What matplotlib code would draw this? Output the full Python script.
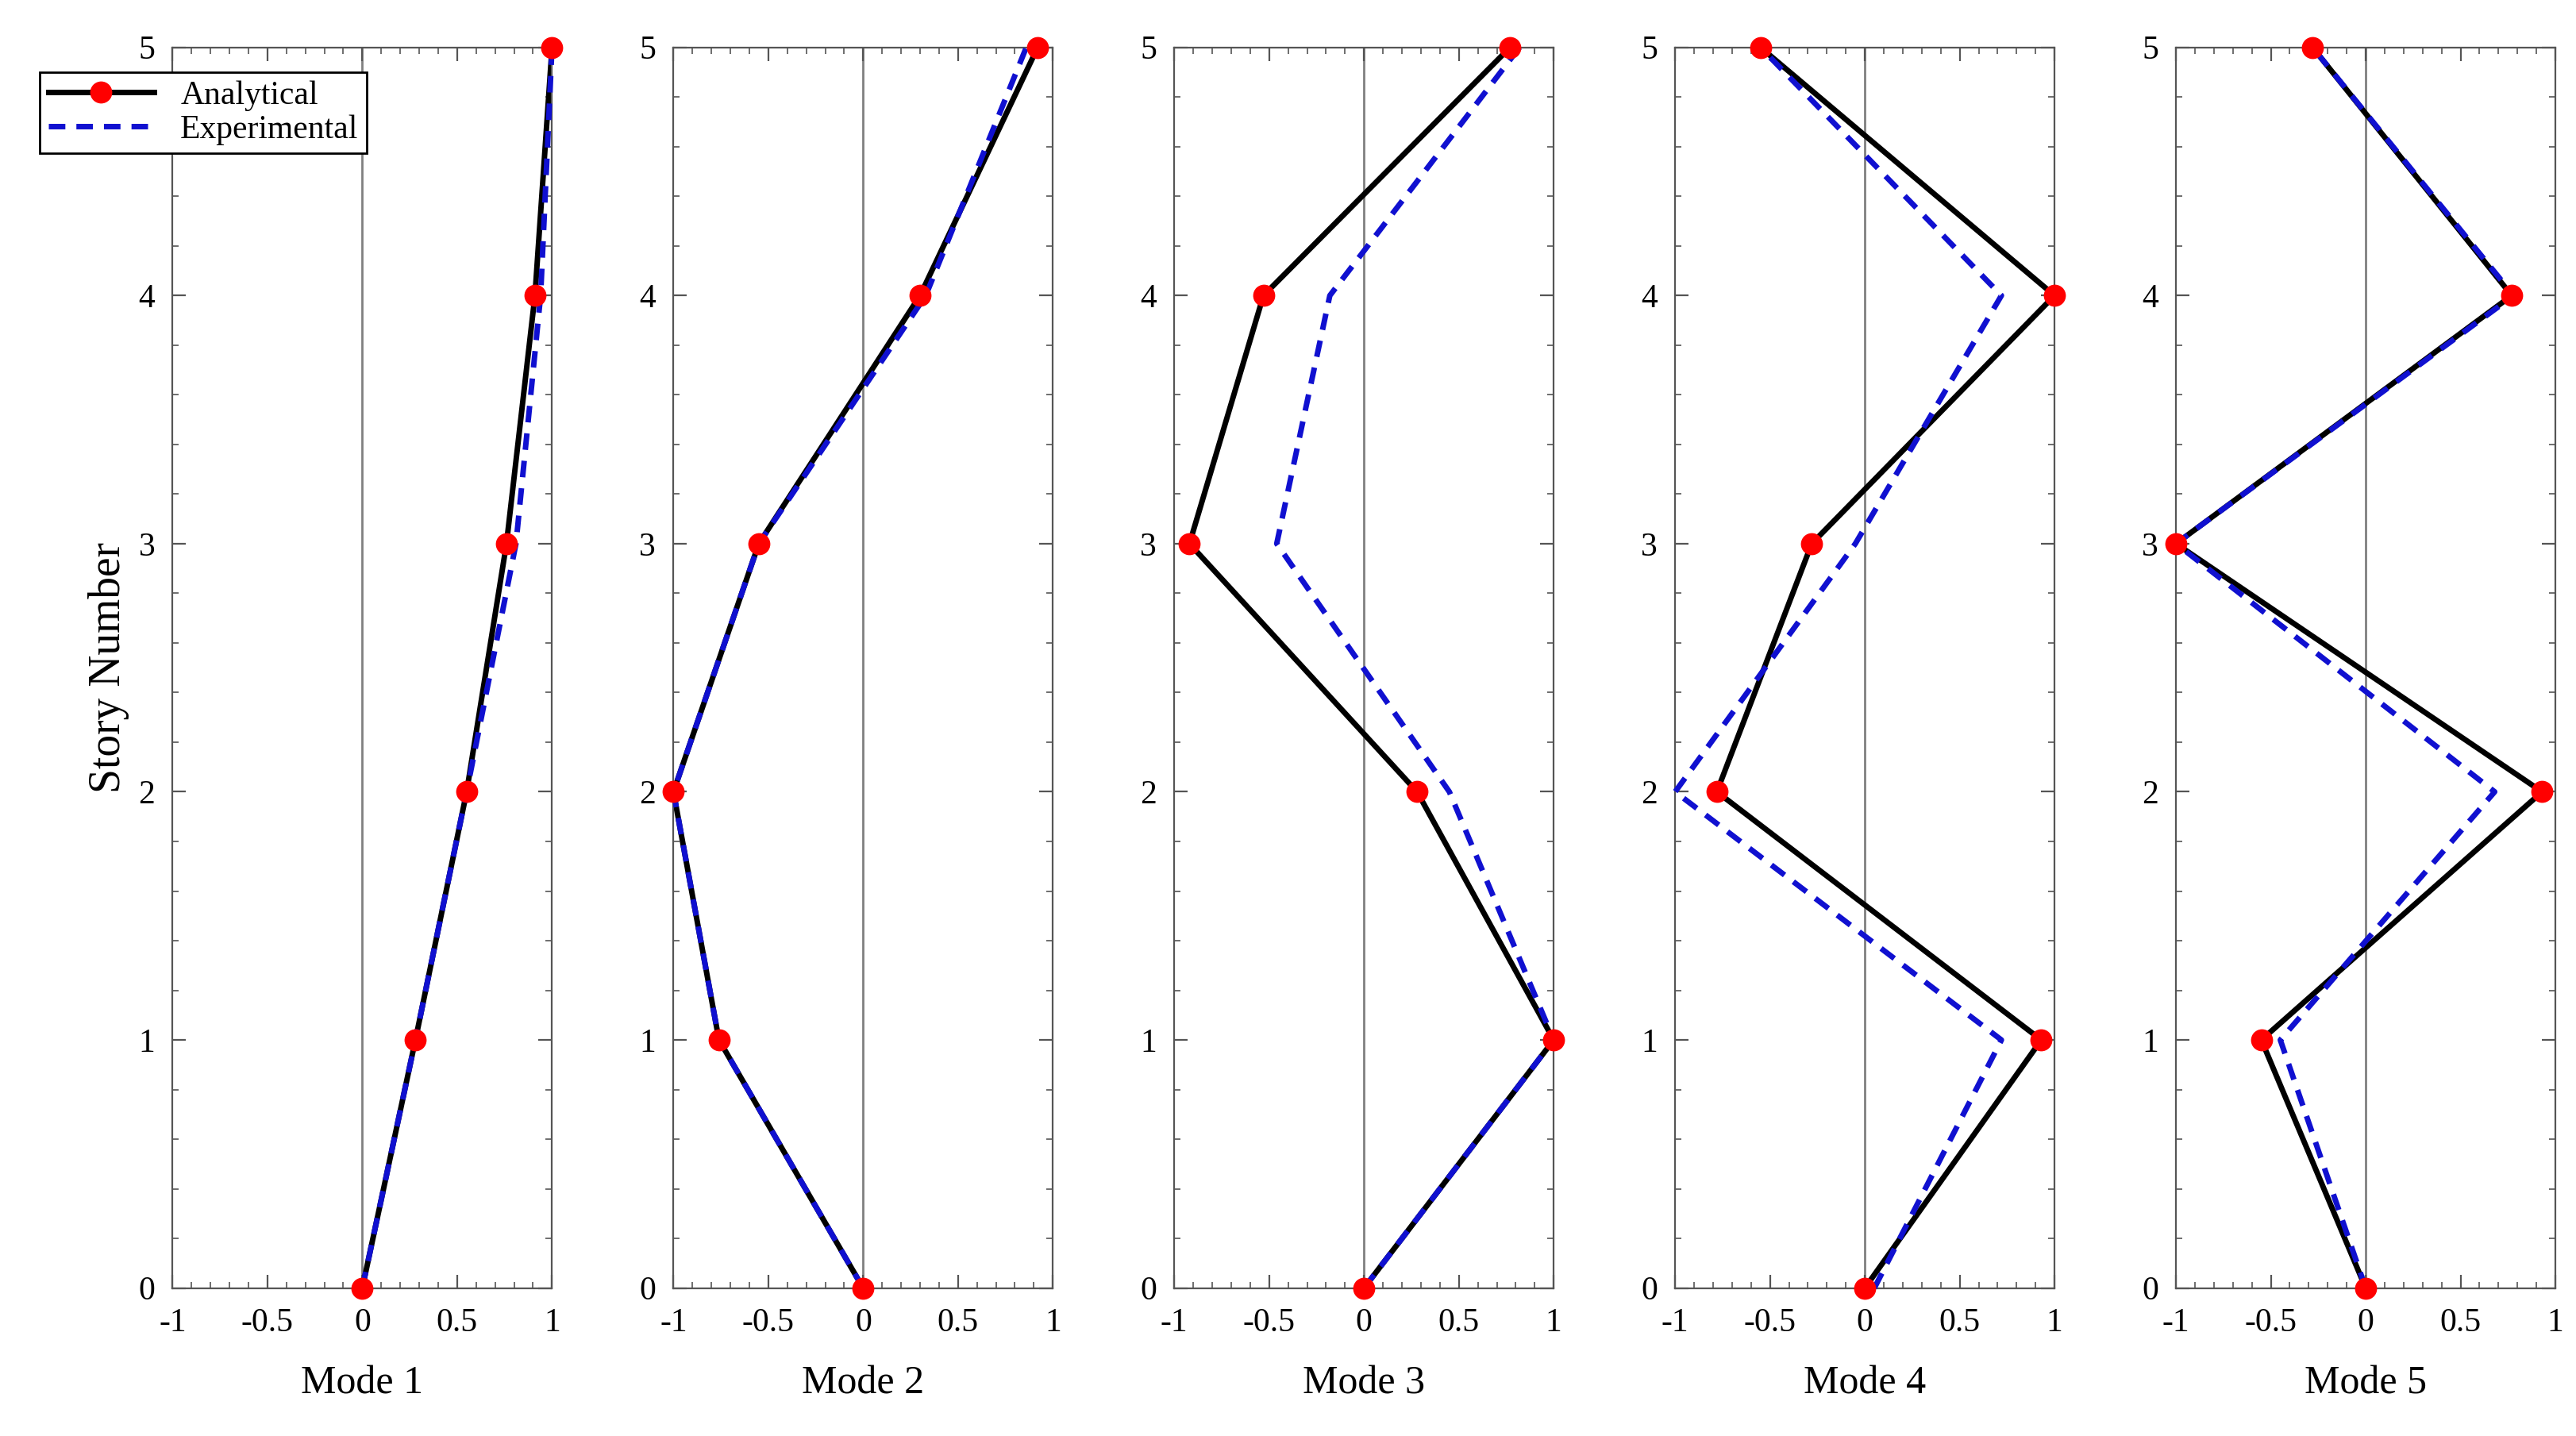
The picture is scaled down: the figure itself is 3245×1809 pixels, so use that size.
import numpy as np
import matplotlib
matplotlib.use("Agg")
import matplotlib.pyplot as plt
from matplotlib.ticker import AutoMinorLocator

plt.rcParams['font.family'] = ['Liberation Serif', 'DejaVu Serif']

stories = [0, 1, 2, 3, 4, 5]
mode_labels = ['Mode 1', 'Mode 2', 'Mode 3', 'Mode 4', 'Mode 5']

analytical = [
    [0, 0.28, 0.55, 0.76, 0.91, 1.0],
    [0, -0.76, -1.0, -0.55, 0.30, 0.92],
    [0, 1.0, 0.28, -0.92, -0.53, 0.77],
    [0, 0.93, -0.78, -0.28, 1.0, -0.55],
    [0, -0.55, 0.93, -1.0, 0.77, -0.28],
]
experimental = [
    [0, 0.28, 0.55, 0.81, 0.94, 1.0],
    [0, -0.76, -1.0, -0.55, 0.33, 0.86],
    [0, 1.0, 0.45, -0.46, -0.18, 0.82],
    [0.05, 0.72, -1.0, -0.05, 0.72, -0.55],
    [0, -0.45, 0.68, -1.0, 0.78, -0.28],
]

fig, axes = plt.subplots(1, 5, figsize=(16.225, 9.045), dpi=200)
fig.subplots_adjust(left=0.067, right=0.992, top=0.967, bottom=0.103, wspace=0.32)

for i, ax in enumerate(axes):
    ax.axvline(0, color='grey', linewidth=1.0, zorder=1)
    # black line, dashed on top, then markers on top of everything
    ax.plot(analytical[i], stories, color='black', linewidth=2.5, zorder=2)
    ax.plot(experimental[i], stories, color='#1010d0', linewidth=2.5,
            linestyle=(0, (3, 2)), zorder=3, clip_on=False)
    ax.plot(analytical[i], stories, linestyle='none', marker='o', markersize=9,
            markerfacecolor='red', markeredgecolor='red', zorder=4, clip_on=False)
    ax.set_xlim(-1, 1)
    ax.set_ylim(0, 5)
    ax.set_xticks([-1, -0.5, 0, 0.5, 1])
    ax.set_xticklabels(['-1', '-0.5', '0', '0.5', '1'])
    ax.set_yticks(range(6))
    ax.xaxis.set_minor_locator(AutoMinorLocator(5))
    ax.yaxis.set_minor_locator(AutoMinorLocator(5))
    ax.tick_params(which='both', direction='in', top=True, right=True, labelsize=15, color='#555555')
    ax.tick_params(which='major', length=6)
    ax.tick_params(which='minor', length=3)
    ax.tick_params(axis='x', pad=9)
    ax.tick_params(axis='y', pad=8)
    for s in ax.spines.values():
        s.set_color('#555555')
    ax.set_xlabel(mode_labels[i], fontsize=18, labelpad=12)

# legend handles
from matplotlib.lines import Line2D
h1 = Line2D([], [], color='black', linewidth=2.5, marker='o', markersize=9,
            markerfacecolor='red', markeredgecolor='red')
h2 = Line2D([], [], color='#1010d0', linewidth=2.5, linestyle=(0, (3, 2)))
axes[0].set_ylabel('Story Number', fontsize=20)
axes[0].legend([h1, h2], ['Analytical', 'Experimental'], loc='upper left',
               bbox_to_anchor=(-0.35, 0.98), fontsize=15, fancybox=False,
               edgecolor='black', framealpha=1, borderpad=0.25, labelspacing=0.1,
               handlelength=3.2, borderaxespad=0)

fig.savefig('out.png', dpi=200)
